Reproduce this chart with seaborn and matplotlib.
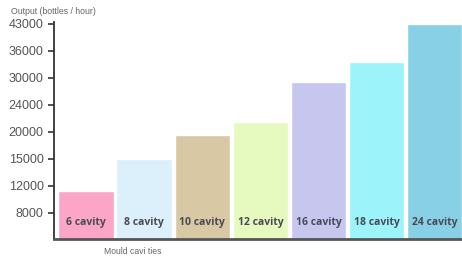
import numpy as np
import pandas as pd
import matplotlib
matplotlib.use("Agg")
import matplotlib.pyplot as plt
import matplotlib.transforms as mtransforms
import seaborn as sns

categories = ["6 cavity", "8 cavity", "10 cavity", "12 cavity", "16 cavity", "18 cavity", "24 cavity"]
outputs = [11200, 15000, 19400, 21500, 29100, 33600, 43000]
colors = ["#FBA6C6", "#DCF0FC", "#D8C9A4", "#E6FABF", "#C6C6EF", "#9CF4FA", "#88D0E6"]
tick_values = [8000, 12000, 15000, 20000, 24000, 30000, 36000, 43000]

sns.set_theme(style="white")
plt.rcParams['font.family'] = ['Liberation Sans', 'DejaVu Sans']

# evenly spaced (categorical-like) value axis
anchor_v = np.array([4000] + tick_values + [50000], dtype=float)
anchor_i = np.arange(-1, len(tick_values) + 1, dtype=float)

def fwd(v):
    return np.interp(v, anchor_v, anchor_i)

def inv(i):
    return np.interp(i, anchor_i, anchor_v)

df = pd.DataFrame({"cat": categories, "val": outputs})

fig = plt.figure(figsize=(4.62, 2.58), dpi=100)
ax = fig.add_axes([54 / 462, 1 - 239 / 258, 408 / 462, (239 - 22) / 258])
ax.set_yscale("function", functions=(fwd, inv))

sns.barplot(data=df, x="cat", y="val", hue="cat", palette=colors, legend=False,
            width=0.95, ax=ax, saturation=1)

ax.set_xlim(-0.55, 6.47)
ax.set_ylim(inv(-0.963), inv(7.07))
ax.set_yticks(tick_values)
ax.set_yticklabels([str(v) for v in tick_values])
ax.minorticks_off()
ax.set_xticks([])
ax.set_xlabel("")
ax.set_ylabel("")

for s in ["top", "right"]:
    ax.spines[s].set_visible(False)
ax.spines["left"].set_color("#333333")
ax.spines["left"].set_linewidth(1.3)
ax.spines["bottom"].set_color("#555555")
ax.spines["bottom"].set_linewidth(2)
ax.tick_params(axis="y", which="major", left=True, length=4, width=1.2, color="#333333",
               labelsize=9, labelcolor="#555555", pad=3.5)

trans = mtransforms.blended_transform_factory(ax.transData, fig.transFigure)
for i, c in enumerate(categories):
    ax.text(i, 1 - 223 / 258, c, transform=trans, ha="center", va="center",
            fontsize=7.5, fontweight="bold", color="#4a4a55",
            family=["Open Sans", "DejaVu Sans"])

fig.text(11 / 462, 1 - 12 / 258, "Output (bottles / hour)", fontsize=6.3,
         color="#666666", ha="left", va="center")
fig.text(104 / 462, 1 - 252 / 258, "Mould cavi ties", fontsize=6.2,
         color="#666666", ha="left", va="center")

fig.savefig("out.png", dpi=100)
